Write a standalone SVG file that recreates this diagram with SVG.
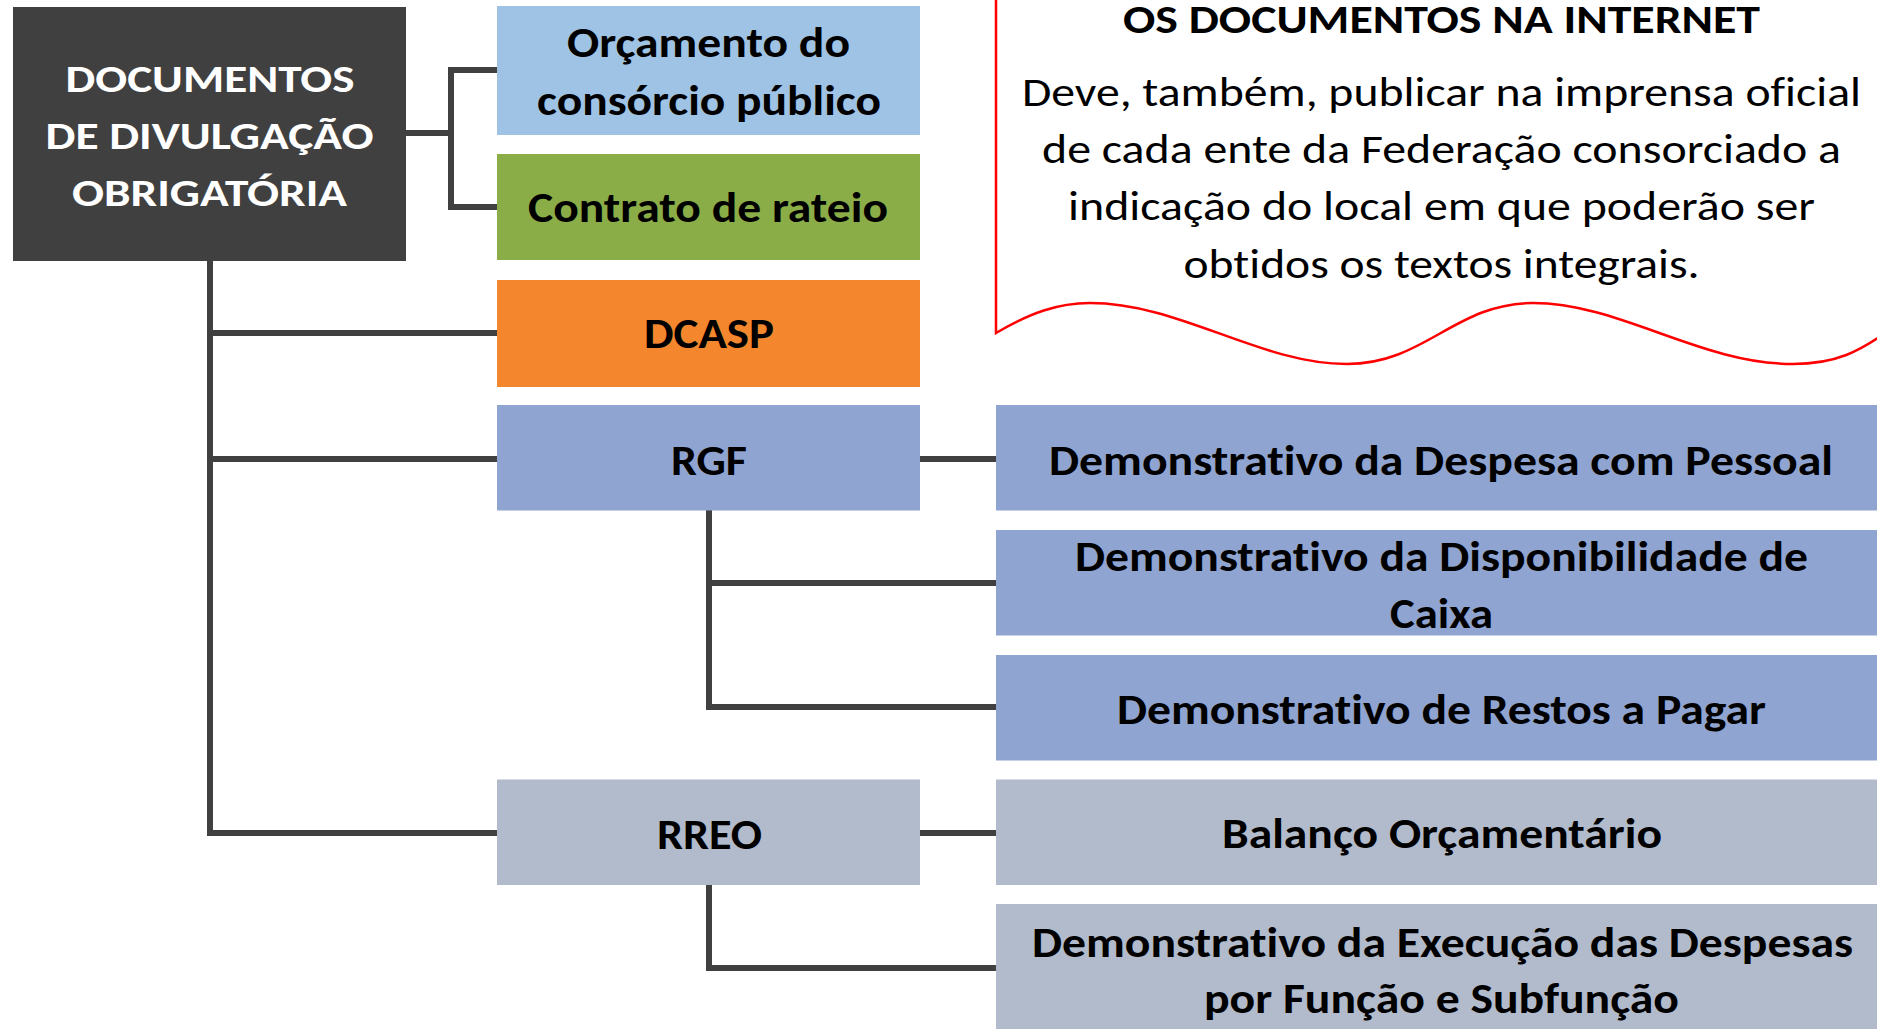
<svg xmlns="http://www.w3.org/2000/svg" width="1877" height="1029" viewBox="0 0 1877 1029">
<style>
.t{font-family:Carlito,Lato,"Liberation Sans",sans-serif;font-weight:700;fill:#000;text-anchor:middle;font-variant-ligatures:none;font-feature-settings:"liga" 0,"clig" 0,"dlig" 0,"calt" 0}
.w{fill:#fff;font-size:38px}
.l{font-size:42px}
.r{font-size:42px}
.c{font-family:Carlito,Lato,"Liberation Sans",sans-serif;font-size:40.5px;fill:#000;text-anchor:middle;font-variant-ligatures:none;font-feature-settings:"liga" 0,"clig" 0,"dlig" 0,"calt" 0}
.ct{font-weight:700}
.cn{fill:none;stroke:#404040;stroke-width:6;stroke-linejoin:miter;stroke-linecap:butt}
</style>
<rect width="1877" height="1029" fill="#fff"/>
<g id="connectors" class="cn">
<path d="M406,133 H451"/>
<path d="M497,70 H451 V207 H497"/>
<path d="M210,261 V833 H497"/>
<path d="M210,333 H497"/>
<path d="M210,459 H497"/>
<path d="M920,459 H996"/>
<path d="M709,510 V707 H996"/>
<path d="M709,583 H996"/>
<path d="M920,833 H996"/>
<path d="M709,885 V968 H996"/>
</g>
<g id="callout">
<path d="M996,-5 V333 C1030,313 1058,303 1090,303 C1180,303 1260,364 1347,364 C1425,364 1455,303 1533,303 C1620,303 1700,364 1793,364 C1835,364 1860,352 1892,328 V-5 Z" fill="#fff" stroke="#ff0000" stroke-width="2.5"/>
<text class="c ct" x="1441.5" y="32.5" textLength="637" lengthAdjust="spacingAndGlyphs">OS DOCUMENTOS NA INTERNET</text>
<text class="c" x="1441.5" y="106" textLength="839" lengthAdjust="spacingAndGlyphs">Deve, também, publicar na imprensa oficial</text>
<text class="c" x="1441.5" y="163" textLength="799" lengthAdjust="spacingAndGlyphs">de cada ente da Federação consorciado a</text>
<text class="c" x="1441.5" y="220" textLength="747" lengthAdjust="spacingAndGlyphs">indicação do local em que poderão ser</text>
<text class="c" x="1441.5" y="278" textLength="516" lengthAdjust="spacingAndGlyphs">obtidos os textos integrais.</text>
</g>
<g id="root">
<rect x="13" y="7" width="393" height="254" fill="#404040"/>
<text class="t w" x="210" y="92" textLength="289" lengthAdjust="spacingAndGlyphs">DOCUMENTOS</text>
<text class="t w" x="209.5" y="149" textLength="328" lengthAdjust="spacingAndGlyphs">DE DIVULGAÇÃO</text>
<text class="t w" x="209.5" y="206" textLength="275" lengthAdjust="spacingAndGlyphs">OBRIGATÓRIA</text>
</g>
<g id="orcamento">
<rect x="497" y="6" width="423" height="129" fill="#9fc3e4"/>
<text class="t l" x="708.5" y="57" textLength="283" lengthAdjust="spacingAndGlyphs">Orçamento do</text>
<text class="t l" x="709" y="115" textLength="344" lengthAdjust="spacingAndGlyphs">consórcio público</text>
</g>
<g id="contrato">
<rect x="497" y="154" width="423" height="106" fill="#8bad48"/>
<text class="t l" x="708" y="222" textLength="360" lengthAdjust="spacingAndGlyphs">Contrato de rateio</text>
</g>
<g id="dcasp">
<rect x="497" y="280" width="423" height="107" fill="#f4872d"/>
<text class="t l" x="709" y="348" textLength="130" lengthAdjust="spacingAndGlyphs">DCASP</text>
</g>
<g id="rgf">
<rect x="497" y="405" width="423" height="105.5" fill="#8fa4d1"/>
<text class="t l" x="709" y="475" textLength="76" lengthAdjust="spacingAndGlyphs">RGF</text>
</g>
<g id="rreo">
<rect x="497" y="779.5" width="423" height="105.5" fill="#b2bbcc"/>
<text class="t l" x="709.5" y="849" textLength="105" lengthAdjust="spacingAndGlyphs">RREO</text>
</g>
<g id="despesa-pessoal">
<rect x="996" y="405" width="900" height="105.5" fill="#8fa4d1"/>
<text class="t r" x="1441" y="474.5" textLength="784" lengthAdjust="spacingAndGlyphs">Demonstrativo da Despesa com Pessoal</text>
</g>
<g id="disponibilidade-caixa">
<rect x="996" y="530" width="900" height="105.5" fill="#8fa4d1"/>
<text class="t r" x="1441.5" y="571" textLength="733" lengthAdjust="spacingAndGlyphs">Demonstrativo da Disponibilidade de</text>
<text class="t r" x="1441.5" y="627.5" textLength="103" lengthAdjust="spacingAndGlyphs">Caixa</text>
</g>
<g id="restos-pagar">
<rect x="996" y="655" width="900" height="105.5" fill="#8fa4d1"/>
<text class="t r" x="1441.5" y="723.5" textLength="649" lengthAdjust="spacingAndGlyphs">Demonstrativo de Restos a Pagar</text>
</g>
<g id="balanco-orcamentario">
<rect x="996" y="779.5" width="900" height="105.5" fill="#b2bbcc"/>
<text class="t r" x="1442" y="847.5" textLength="440" lengthAdjust="spacingAndGlyphs">Balanço Orçamentário</text>
</g>
<g id="execucao-despesas">
<rect x="996" y="904" width="900" height="140" fill="#b2bbcc"/>
<text class="t r" x="1442.5" y="957" textLength="821" lengthAdjust="spacingAndGlyphs">Demonstrativo da Execução das Despesas</text>
<text class="t r" x="1441.5" y="1013" textLength="475" lengthAdjust="spacingAndGlyphs">por Função e Subfunção</text>
</g>
</svg>
